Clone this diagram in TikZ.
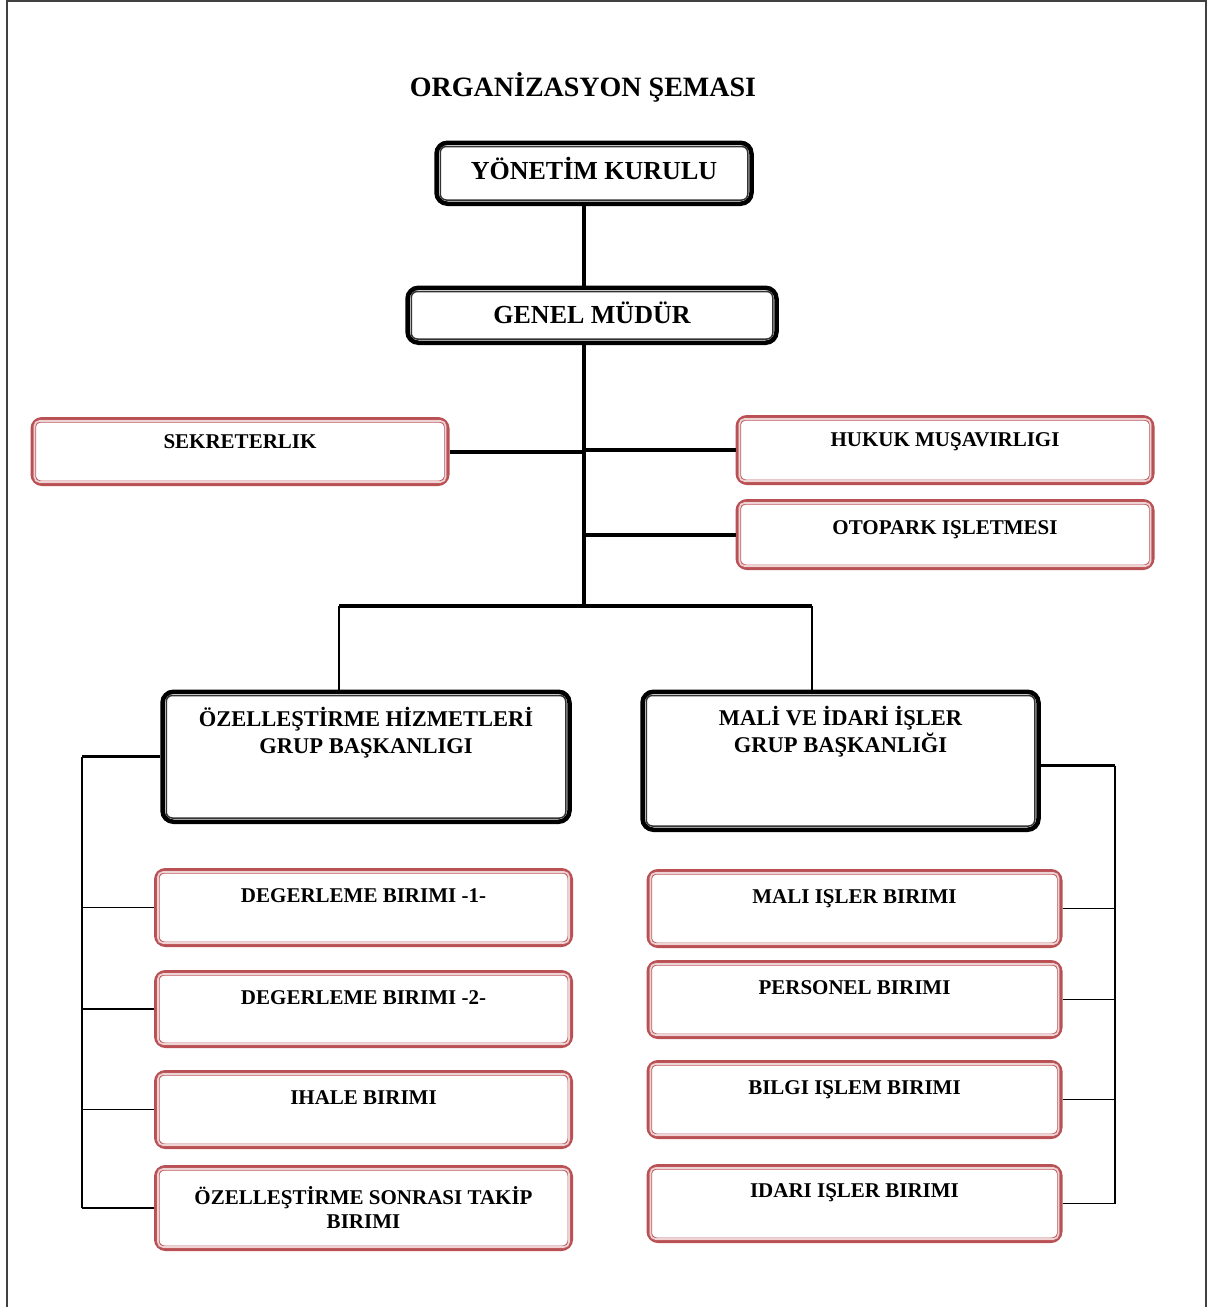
\documentclass[tikz,border=0pt]{standalone}
\usepackage{fontspec}
\setmainfont{Liberation Serif}
\definecolor{boxred}{RGB}{185,80,84}
\tikzset{font=\bfseries}

\begin{document}
\begin{tikzpicture}
  [x=1pt, y=-1pt,
  every node/.style={align=center, inner sep=0pt},
  title/.style={font=\bfseries\fontsize{28}{32}\selectfont},
  hdbox/.style={rectangle, anchor=north, draw=black, line width=4.5pt, fill=white,
    rounded corners=11pt, text height=18pt, text depth=6pt,
    font=\bfseries\fontsize{26}{30}\selectfont},
  grbox/.style={hdbox, text height={}, text depth=52pt, minimum height=130pt,
    font=\bfseries\fontsize{22.5}{27}\selectfont},
  rbox/.style={rectangle, anchor=north, draw=boxred, line width=5pt, fill=white,
    rounded corners=9pt, minimum width=414pt, minimum height=74pt,
    text height=14pt, text depth=24pt, font=\bfseries\fontsize{21}{24}\selectfont},
  hdin/.style={draw=black!80, line width=1.5pt, rounded corners=6pt},
  rin/.style={draw=boxred!90, double=boxred!25, double distance=1.6pt, line width=0.7pt, rounded corners=5pt},
  trunk/.style={draw, line width=4pt},
  arm/.style={draw, line width=3pt},
  twig/.style={draw, line width=1.5pt}]

  \useasboundingbox (0,0) rectangle (1210,1307);
  % page frame
  \draw[line width=1.5pt, black!75] (7,1310) -- (7,1) -- (1206,1) -- (1206,1310);

  \node[title] (title) at (583,87) {ORGANİZASYON ŞEMASI};

  % top of the chart
  \node[hdbox, minimum width=315pt, minimum height=61pt] (kurul) at (594,140.5) {YÖNETİM KURULU};
  \node[hdbox, minimum width=369pt, minimum height=55pt, text depth=2pt] (mudur) at (592,285.5) {GENEL MÜDÜR};

  % staff units
  \node[rbox, minimum height=64pt, text depth=21pt] (sekr) at (240,417) {SEKRETERLIK};
  \node[rbox, minimum height=65pt, text depth=21pt] (hukuk) at (945,415) {HUKUK MUŞAVIRLIGI};
  \node[rbox, minimum height=66pt, text depth=15pt] (otopark) at (945,499) {OTOPARK IŞLETMESI};

  % group heads
  \node[grbox, minimum width=407pt] (ozel) at (366,689.5) {ÖZELLEŞTİRME HİZMETLERİ\\GRUP BAŞKANLIGI};
  \node[grbox, minimum width=396pt, minimum height=138pt, text depth=62pt] (mali) at (840.5,689.5) {MALİ VE İDARİ İŞLER\\GRUP BAŞKANLIĞI};

  % units of the first group
  \node[rbox] (deger1) at (363.5,868) {DEGERLEME BIRIMI -1-};
  \node[rbox, minimum height=73pt] (deger2) at (363.5,970) {DEGERLEME BIRIMI -2-};
  \node[rbox] (ihale) at (363.5,1070) {IHALE BIRIMI};
  \node[rbox, minimum height=81pt, text height={}, text depth={}] (takip) at (363.5,1165) {ÖZELLEŞTİRME SONRASI TAKİP\\BIRIMI};

  % units of the second group
  \node[rbox, minimum width=411pt] (malis) at (854.5,869) {MALI IŞLER BIRIMI};
  \node[rbox, minimum width=411pt, text depth=25pt] (pers) at (854.5,960) {PERSONEL BIRIMI};
  \node[rbox, minimum width=411pt, text depth=25pt] (bilgi) at (854.5,1060) {BILGI IŞLEM BIRIMI};
  \node[rbox, minimum width=411pt, text depth=26pt] (idari) at (854.5,1164) {IDARI IŞLER BIRIMI};

  % connectors
  \coordinate (bar) at (584,606);
  \coordinate (dropL) at (339,606);
  \coordinate (dropR) at (812,606);
  \coordinate (spineL) at (82,0);
  \coordinate (spineR) at (1115,0);

  \path[trunk] (kurul.south -| bar) -- (mudur.north -| bar);
  \path[trunk] (mudur.south -| bar) -- (bar);
  \path[trunk] (sekr.east) -- (sekr.east -| bar);
  \path[trunk] (hukuk.west) -- (hukuk.west -| bar);
  \path[trunk] (otopark.west) -- (otopark.west -| bar);
  \path[trunk] (dropL) -- (dropR);
  \path[twig] (dropL) -- (dropL |- ozel.north);
  \path[twig] (dropR) -- (dropR |- mali.north);
  \path[arm] (ozel.west) -- (ozel.west -| spineL);
  \path[arm] ([yshift=-5pt]mali.east) -- ([yshift=-5pt]mali.east -| spineR);
  \path[twig] (ozel.west -| spineL) -- (takip.west -| spineL);
  \path[twig] ([yshift=-5pt]mali.east -| spineR) -- (idari.east -| spineR);
  \foreach \n in {deger1,deger2,ihale,takip}
    \path[twig] (\n.west -| spineL) -- (\n.west);
  \foreach \n in {malis,pers,bilgi,idari}
    \path[twig] (\n.east) -- (\n.east -| spineR);

  % inner lines of the double borders
  \foreach \n in {kurul,mudur,ozel,mali}
    \draw[hdin] ([shift={(6pt,-6pt)}]\n.north west) rectangle ([shift={(-6pt,6pt)}]\n.south east);
  \foreach \n in {sekr,hukuk,otopark,deger1,deger2,ihale,takip,malis,pers,bilgi,idari}
    \draw[rin] ([shift={(4pt,-4pt)}]\n.north west) rectangle ([shift={(-4pt,4pt)}]\n.south east);
\end{tikzpicture}
\end{document}
